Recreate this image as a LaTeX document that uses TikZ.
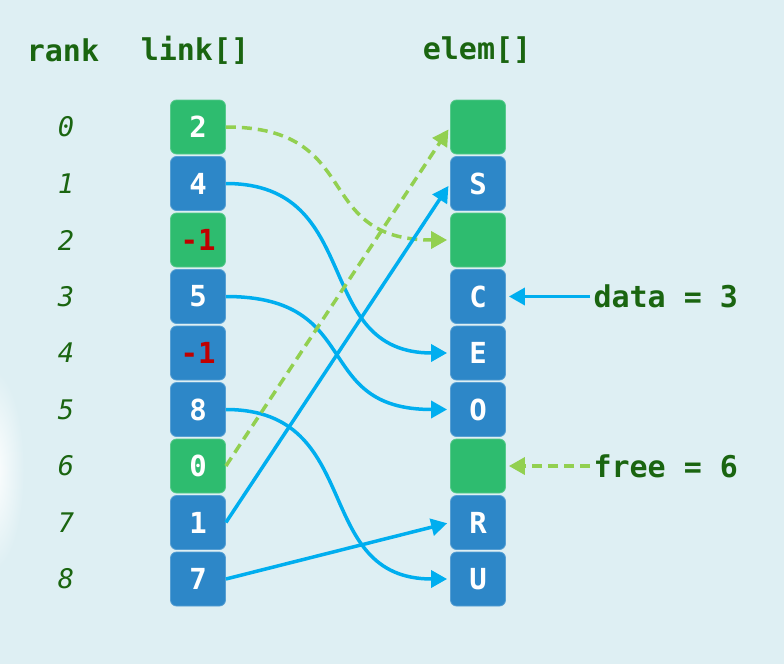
\documentclass[tikz,border=0pt]{standalone}
\usepackage{fontspec}
\setmonofont{DejaVu Sans Mono}
\usetikzlibrary{arrows.meta}
\definecolor{bg}{HTML}{DEEFF3}
\definecolor{gbox}{HTML}{2EBC6F}
\definecolor{bbox}{HTML}{2D87C8}
\definecolor{lblue}{HTML}{00AEEF}
\definecolor{lgreen}{HTML}{92D050}
\definecolor{tgreen}{HTML}{1A6510}
\definecolor{tred}{HTML}{C00000}
\tikzset{
  cell/.style={rounded corners=6pt, minimum width=55pt, minimum height=54pt, inner sep=0pt,
    text=white, font=\ttfamily\bfseries\fontsize{29}{29}\selectfont, line width=0.8pt},
  gcell/.style={cell, fill=gbox, draw=gbox!80!white},
  bcell/.style={cell, fill=bbox, draw=bbox!80!white},
  head/.style={text=tgreen, font=\ttfamily\bfseries\fontsize{30}{30}\selectfont},
  ranklab/.style={text=tgreen, font=\ttfamily\itshape\fontsize{27}{27}\selectfont},
  solidarr/.style={draw=lblue, line width=3.5pt, -{Triangle[length=16pt,width=17pt]}, shorten >=3pt},
  dasharr/.style={draw=lgreen, line width=3.5pt, dash pattern=on 10pt off 6pt, -{Triangle[length=16pt,width=17pt]}, shorten >=3pt},
  redtxt/.style={text=tred}
}
\begin{document}
\begin{tikzpicture}[x=1pt,y=-1pt]
\fill[bg] (0,0) rectangle (784,664);
\useasboundingbox (0,0) rectangle (784,664);
\shade[inner color=white, outer color=bg] (-8,470) ellipse [x radius=32, y radius=100];
% headers
\node[head] (hrank) at (63,50) {rank};
\node[head] (hlink) at (195,50) {link[]};
\node[head] (helem) at (477,50) {elem[]};
% rank labels
\foreach \i in {0,...,8} {
  \node[ranklab] (r\i) at (66,{127+56.5*\i}) {\i};
}
% link column
\node[gcell] (l0) at (198,127) {2};
\node[bcell] (l1) at (198,183.5) {4};
\node[gcell, redtxt] (l2) at (198,240) {-1};
\node[bcell] (l3) at (198,296.5) {5};
\node[bcell, redtxt] (l4) at (198,353) {-1};
\node[bcell] (l5) at (198,409.5) {8};
\node[gcell] (l6) at (198,466) {0};
\node[bcell] (l7) at (198,522.5) {1};
\node[bcell] (l8) at (198,579) {7};
% elem column
\node[gcell] (e0) at (478,127) {};
\node[bcell] (e1) at (478,183.5) {S};
\node[gcell] (e2) at (478,240) {};
\node[bcell] (e3) at (478,296.5) {C};
\node[bcell] (e4) at (478,353) {E};
\node[bcell] (e5) at (478,409.5) {O};
\node[gcell] (e6) at (478,466) {};
\node[bcell] (e7) at (478,522.5) {R};
\node[bcell] (e8) at (478,579) {U};
% pointers
\node[head, anchor=west] (data) at (590,296.5) {data = 3};
\node[head, anchor=west] (free) at (590,466) {free = 6};
% connectors
\draw[dasharr] (l0.east) .. controls +(140,0) and +(-140,0) .. (e2.west);
\draw[solidarr] (l1.east) .. controls +(140,0) and +(-140,0) .. (e4.west);
\draw[solidarr] (l3.east) .. controls +(140,0) and +(-140,0) .. (e5.west);
\draw[solidarr] (l5.east) .. controls +(140,0) and +(-140,0) .. (e8.west);
\draw[dasharr] (l6.east) -- (e0.west);
\draw[solidarr] (l7.east) -- (e1.west);
\draw[solidarr] (l8.east) -- (e7.west);
\draw[solidarr] (data.west) -- (e3.east);
\draw[dasharr] (free.west) -- (e6.east);
\end{tikzpicture}
\end{document}
